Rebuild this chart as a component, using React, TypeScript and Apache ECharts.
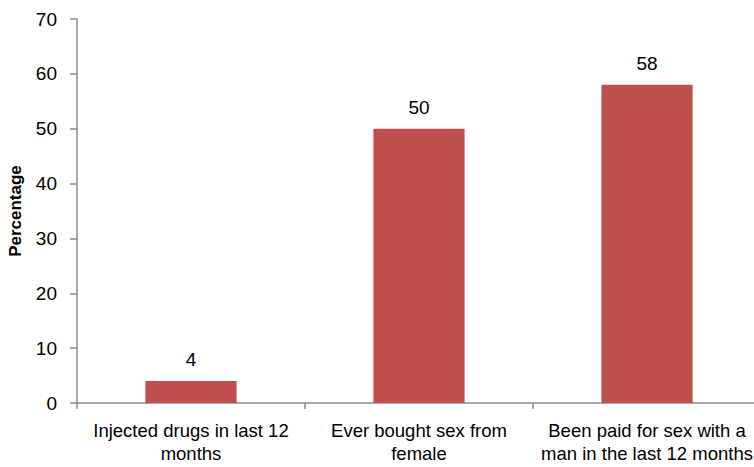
import React, { useEffect, useRef } from "react";
import * as echarts from "echarts";

const categories = [
  "Injected drugs in last 12\nmonths",
  "Ever bought sex from\nfemale",
  "Been paid for sex with a\nman in the last 12 months",
];
const values = [4, 50, 58];
const yTicks = { min: 0, max: 70, interval: 10 };
const yTitle = "Percentage";

const FONT = "'Liberation Sans Narrow', 'Arial Narrow', 'Liberation Sans', Arial, sans-serif";

export default function App() {
  const ref = useRef<HTMLDivElement>(null);
  useEffect(() => {
    if (!ref.current) return;
    const chart = echarts.init(ref.current, undefined, { renderer: "svg" });
    chart.setOption({
      animation: false,
      grid: {
        left: 77,
        top: 19,
        width: 684,
        height: 384,
        containLabel: false,
        outerBoundsMode: "none",
      },
      xAxis: {
        type: "category",
        data: categories,
        axisLine: { lineStyle: { color: "#8c8c8c", width: 1.5 } },
        axisTick: { show: true, length: 6, lineStyle: { color: "#8c8c8c", width: 1.5 } },
        axisLabel: {
          color: "#000",
          fontFamily: FONT,
          fontSize: 18.5,
          lineHeight: 23,
          margin: 16,
          interval: 0,
          hideOverlap: false,
        },
      },
      yAxis: {
        type: "value",
        min: yTicks.min,
        max: yTicks.max,
        interval: yTicks.interval,
        name: yTitle,
        nameLocation: "middle",
        nameGap: 53,
        nameTextStyle: { fontFamily: FONT, fontSize: 17, fontWeight: "bold", color: "#000" },
        axisLine: { show: true, lineStyle: { color: "#8c8c8c", width: 1.5 } },
        axisTick: { show: true, length: 7, lineStyle: { color: "#8c8c8c", width: 1.5 } },
        splitLine: { show: false },
        axisLabel: { color: "#000", fontFamily: FONT, fontSize: 19, margin: 20 },
      },
      series: [
        {
          type: "bar",
          data: values,
          barWidth: "40%",
          itemStyle: { color: "#C0504D" },
          label: {
            show: true,
            position: "top",
            distance: 12,
            color: "#000",
            fontFamily: FONT,
            fontSize: 19,
          },
        },
      ],
    });
    return () => chart.dispose();
  }, []);
  return <div ref={ref} style={{ width: 754, height: 467, position: "absolute", left: 0, top: 0 }} />;
}
